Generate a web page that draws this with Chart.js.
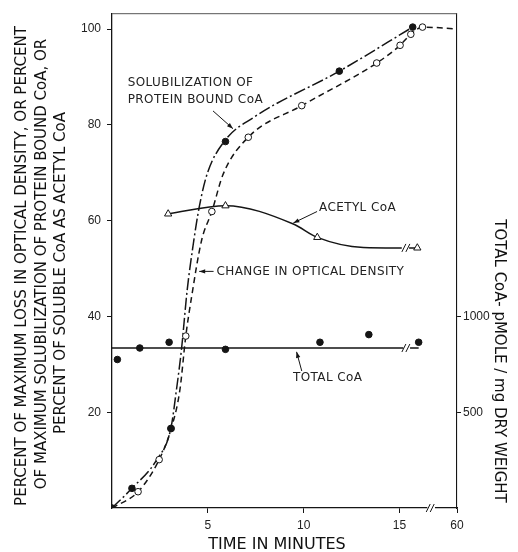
<!DOCTYPE html>
<html><head><meta charset="utf-8">
<script src="https://cdn.jsdelivr.net/npm/chart.js@4"></script>
<style>html,body{margin:0;padding:0;background:#fff}canvas{display:block}</style>
</head><body>
<canvas id="c" width="518" height="552" style="width:518px;height:552px"></canvas>
<script>
// ---- data (time in minutes; the last x tick stands for 60 min) ----
const xTicks = [5, 10, 15, 18];
const xTickLabels = ['5', '10', '15', '60'];
const yTicks = [20, 40, 60, 80, 100];
const y2Ticks = [500, 1000];

// Solubilization of protein bound CoA (filled circles)
const solTime = [0, 1.04, 3.07, 5.92, 11.86, 15.69];
const solPct  = [0, 4.1, 16.6, 76.5, 91.2, 100.4];
// traced solubilization curve
const solCurveTime = [0, 1.04, 2.32, 3.07, 3.36, 3.63, 3.92, 4.23, 4.55, 4.96, 5.89, 7.37, 11.86, 15.69];
const solCurvePct  = [0, 4.1, 10.0, 16.6, 24.6, 33.3, 45.4, 54.8, 62.8, 69.7, 76.7, 81.5, 91.2, 100.4];

// Change in optical density (open circles)
const odTime = [1.36, 2.46, 3.09, 3.85, 5.21, 7.11, 9.90, 13.81, 15.03, 15.59, 16.20];
const odPct  = [3.4, 10.1, 16.6, 35.9, 61.9, 77.4, 84.0, 92.9, 96.6, 98.9, 100.4];
const odCurveTime = [0, 1.36, 2.46, 3.09, 3.54, 3.85, 4.15, 4.67, 5.21, 5.80, 7.11, 9.90, 13.81, 15.03, 15.59, 16.20, 18];
const odCurvePct  = [0, 3.4, 10.1, 16.6, 24.6, 35.9, 44.0, 55.8, 61.9, 69.7, 77.4, 84.0, 92.9, 96.6, 98.9, 100.4, 100.0];

// Acetyl CoA (triangles)
const acTime = [2.93, 5.92, 10.71, 15.93];
const acPct  = [61.4, 63.1, 56.5, 54.3];
const acCurveTime = [2.93, 5.92, 9.46, 10.71, 13.11, 15.12, null, 15.5, 15.93];
const acCurvePct  = [61.4, 63.1, 59.3, 56.5, 54.4, 54.3, null, 54.3, 54.3];

// Total CoA, pmole / mg dry weight (right axis)
const totTime = [0.28, 1.45, 2.98, 5.92, 10.85, 13.4, 16.0];
const totPmol = [775, 835, 865, 828, 865, 905, 865];
const totLineTime = [0, 15.2, null, 15.55, 16.0];
const totLinePmol = [835, 835, null, 835, 835];

const pts = (xs, ys) => xs.map((x, i) => (x === null ? {x: NaN, y: null} : {x: x, y: ys[i]}));
const INK = '#151515';

const annot = {
  id: 'annot',
  afterDatasetsDraw(chart) {
    const ctx = chart.ctx, xs = chart.scales.x, ys = chart.scales.y;
    const X = v => xs.getPixelForValue(v), Y = v => ys.getPixelForValue(v);
    ctx.save();
    ctx.fillStyle = '#222';
    ctx.strokeStyle = INK;
    ctx.font = '12px "DejaVu Sans"';
    try { ctx.letterSpacing = '0.4px'; } catch (e) {}
    ctx.textAlign = 'left';
    ctx.textBaseline = 'middle';
    const labels = [
      ['SOLUBILIZATION OF', 0.82, 88.75],
      ['PROTEIN BOUND CoA', 0.82, 85.2],
      ['ACETYL CoA', 10.8, 62.7],
      ['CHANGE IN OPTICAL DENSITY', 5.45, 49.4],
      ['TOTAL CoA', 9.44, 27.1]
    ];
    labels.forEach(l => ctx.fillText(l[0], X(l[1]), Y(l[2])));
    try { ctx.letterSpacing = '0px'; } catch (e) {}
    const arrow = (x1, y1, x2, y2) => {
      const a = X(x1), b = Y(y1), c = X(x2), d = Y(y2);
      ctx.lineWidth = 1;
      ctx.beginPath(); ctx.moveTo(a, b); ctx.lineTo(c, d); ctx.stroke();
      const ang = Math.atan2(d - b, c - a), L = 6, W = 2.2;
      ctx.beginPath();
      ctx.moveTo(c, d);
      ctx.lineTo(c - L * Math.cos(ang) + W * Math.sin(ang), d - L * Math.sin(ang) - W * Math.cos(ang));
      ctx.lineTo(c - L * Math.cos(ang) - W * Math.sin(ang), d - L * Math.sin(ang) + W * Math.cos(ang));
      ctx.closePath(); ctx.fillStyle = INK; ctx.fill();
    };
    arrow(5.27, 82.9, 6.31, 79.2);
    arrow(10.7, 61.9, 9.46, 59.5);
    arrow(5.3, 49.4, 4.55, 49.4);
    arrow(9.9, 28.6, 9.63, 32.6);
    // break marks
    ctx.lineWidth = 1;
    const slash = (xv, yp) => {
      const x = X(xv);
      ctx.beginPath(); ctx.moveTo(x - 3, yp + 4); ctx.lineTo(x + 1, yp - 4); ctx.stroke();
      ctx.beginPath(); ctx.moveTo(x + 1, yp + 4); ctx.lineTo(x + 5, yp - 4); ctx.stroke();
    };
    slash(15.28, Y(54.3));
    slash(15.28, chart.scales.y2.getPixelForValue(835));
    const ca = chart.chartArea;
    ctx.fillStyle = '#fff';
    ctx.fillRect(X(16.45), ca.bottom - 2, X(16.85) - X(16.45), 4);
    slash(16.55, ca.bottom);
    // top border
    ctx.strokeStyle = '#555';
    ctx.lineWidth = 1;
    ctx.beginPath(); ctx.moveTo(ca.left, ca.top + 0.5); ctx.lineTo(ca.right, ca.top + 0.5); ctx.stroke();
    // titles
    ctx.fillStyle = '#111';
    ctx.textAlign = 'center';
    ctx.textBaseline = 'middle';
    const rot = (t, x, y, a, f) => { ctx.save(); ctx.translate(x, y); ctx.rotate(a); ctx.font = f; ctx.fillText(t, 0, 0); ctx.restore(); };
    const lf = '15px "DejaVu Sans"';
    rot('PERCENT OF MAXIMUM LOSS IN OPTICAL DENSITY, OR PERCENT', 22.5, 266, -Math.PI / 2, lf);
    rot('OF MAXIMUM SOLUBILIZATION OF PROTEIN BOUND CoA, OR', 42, 264, -Math.PI / 2, lf);
    rot('PERCENT OF SOLUBLE CoA AS ACETYL CoA', 61.5, 273, -Math.PI / 2, lf);
    rot('TOTAL CoA- pMOLE / mg DRY WEIGHT', 499, 361, Math.PI / 2, lf);
    ctx.font = '16px "DejaVu Sans"';
    ctx.fillText('TIME IN MINUTES', 277, 545);
    ctx.restore();
  }
};

const tickFont = {family: 'Liberation Sans', size: 12};
new Chart(document.getElementById('c'), {
  type: 'scatter',
  data: {
    datasets: [
      {data: pts(solTime, solPct), pointRadius: 3.3, pointBackgroundColor: INK, pointBorderColor: INK, showLine: false},
      {data: pts(totTime, totPmol), yAxisID: 'y2', pointRadius: 3.3, pointBackgroundColor: INK, pointBorderColor: INK, showLine: false},
      {data: pts(odTime, odPct), pointRadius: 3.3, pointBackgroundColor: '#fff', pointBorderColor: INK, pointBorderWidth: 1, showLine: false},
      {data: pts(acTime, acPct), pointStyle: 'triangle', pointRadius: 4.2, pointBackgroundColor: '#fff', pointBorderColor: INK, pointBorderWidth: 1, showLine: false},
      {data: pts(solCurveTime, solCurvePct), showLine: true, pointRadius: 0, borderColor: INK, borderWidth: 1.5, borderDash: [12, 3, 2, 3], cubicInterpolationMode: 'monotone'},
      {data: pts(odCurveTime, odCurvePct), showLine: true, pointRadius: 0, borderColor: INK, borderWidth: 1.5, borderDash: [6, 4], cubicInterpolationMode: 'monotone'},
      {data: pts(acCurveTime, acCurvePct), showLine: true, spanGaps: false, pointRadius: 0, borderColor: INK, borderWidth: 1.5, cubicInterpolationMode: 'monotone'},
      {data: pts(totLineTime, totLinePmol), yAxisID: 'y2', showLine: true, spanGaps: false, pointRadius: 0, borderColor: INK, borderWidth: 1.5}
    ]
  },
  options: {
    responsive: false, animation: false, devicePixelRatio: 1,
    layout: {padding: {top: 12, left: 0, right: 0, bottom: 0}},
    plugins: {legend: {display: false}, tooltip: {enabled: false}},
    scales: {
      x: {
        type: 'linear', position: 'bottom', min: 0, max: 18,
        afterFit(s) { s.height = 44; },
        afterBuildTicks(s) { s.ticks = xTicks.map(v => ({value: v})); },
        ticks: {callback: v => { const i = xTicks.indexOf(v); return i < 0 ? '' : xTickLabels[i]; }, font: tickFont, color: '#222', padding: 5, maxRotation: 0, autoSkip: false},
        grid: {drawOnChartArea: false, tickLength: 5, color: INK, lineWidth: 1},
        border: {color: INK, width: 1.3}
      },
      y: {
        type: 'linear', position: 'left', min: 0, max: 103.3,
        afterFit(s) { s.width = 112; },
        afterBuildTicks(s) { s.ticks = yTicks.map(v => ({value: v})); },
        ticks: {callback: v => String(v), font: tickFont, color: '#222', padding: 6, autoSkip: false},
        grid: {drawOnChartArea: false, tickLength: 5, color: INK, lineWidth: 1},
        border: {color: INK, width: 1.3}
      },
      y2: {
        type: 'linear', position: 'right', min: 0, max: 103.3 * 25,
        afterFit(s) { s.width = 61; },
        afterBuildTicks(s) { s.ticks = y2Ticks.map(v => ({value: v})); },
        ticks: {callback: v => String(v), font: tickFont, color: '#222', padding: 2, autoSkip: false},
        grid: {drawOnChartArea: false, tickLength: 4, color: INK, lineWidth: 1},
        border: {color: INK, width: 1.1}
      }
    }
  },
  plugins: [annot]
});
</script>
</body></html>
